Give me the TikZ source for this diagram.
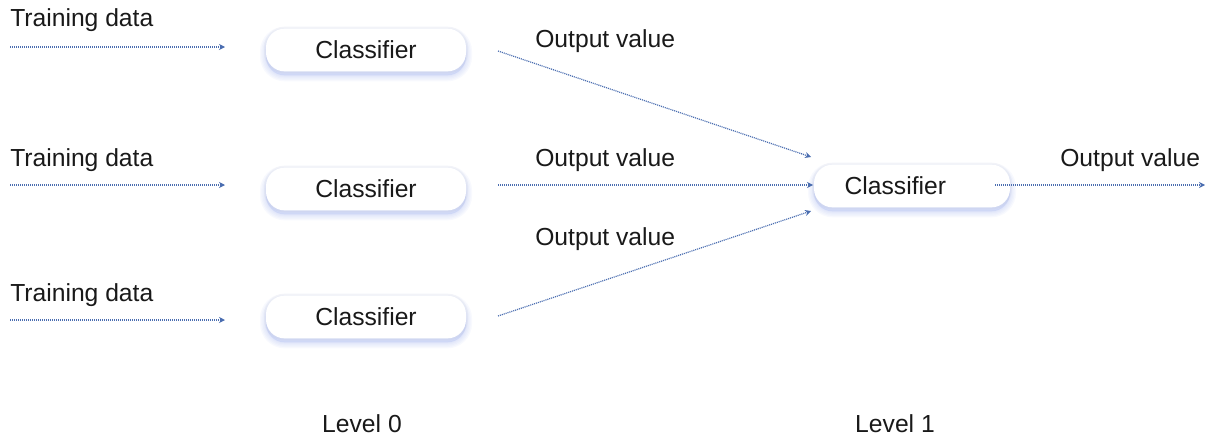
\documentclass[tikz,border=0pt]{standalone}
\usepackage{fontspec}
\setmainfont{Liberation Sans}
\usetikzlibrary{arrows.meta}
\definecolor{flow}{HTML}{4A6DB0}
\definecolor{shade}{HTML}{AFBDF0}
\begin{document}
\begin{tikzpicture}[x=0.75pt,y=-0.75pt,
  every node/.style={font=\fontsize{18.5}{22}\selectfont, text=black!90},
  glow/.style={draw=shade, fill=shade, line width=#1, opacity=0.09,
    transform canvas={yshift=-3pt}},
  clf/.style={rounded corners=14pt, fill=white, minimum width=150pt, minimum height=32pt,
    preaction={glow=9pt}, preaction={glow=7pt}, preaction={glow=5pt},
    preaction={glow=3pt}, preaction={glow=1.5pt},
    preaction={draw=black, opacity=0.025, line width=3pt}},
  lbl/.style={inner sep=0pt, anchor=west},
  flowline/.style={draw=flow, line width=0.9pt, dash pattern=on 0.8pt off 0.7pt,
    -{Stealth[length=4.5pt,width=4.5pt]}}]
  \useasboundingbox (0,0) rectangle (1205,443);

  % level 0 classifiers
  \node[clf] (c1) at (366,50) {Classifier};
  \node[clf] (c2) at (366,189) {Classifier};
  \node[clf] (c3) at (366,317) {Classifier};
  % level 1 classifier (label sits left of centre)
  \node[clf, minimum width=147pt] (c4) at (912,186) {Classifier\kern25pt};

  % inputs
  \coordinate (i1s) at (10,47);  \coordinate (i1e) at (225,47);
  \coordinate (i2s) at (10,185); \coordinate (i2e) at (225,185);
  \coordinate (i3s) at (10,320); \coordinate (i3e) at (225,320);
  \draw[flowline] (i1s) -- (i1e);
  \draw[flowline] (i2s) -- (i2e);
  \draw[flowline] (i3s) -- (i3e);
  \node[lbl] (t1) at (10,20) {Training data};
  \node[lbl] (t2) at (10,160) {Training data};
  \node[lbl] (t3) at (10,295) {Training data};

  % level 0 outputs into level 1
  \coordinate (o1s) at (498,51);  \coordinate (o1e) at (811,157);
  \coordinate (o2s) at (498,185); \coordinate (o2e) at (813,185);
  \coordinate (o3s) at (498,316); \coordinate (o3e) at (811,211);
  \draw[flowline] (o1s) -- (o1e);
  \draw[flowline] (o2s) -- (o2e);
  \draw[flowline] (o3s) -- (o3e);
  \node[lbl] (v1) at (535,41) {Output value};
  \node[lbl] (v2) at (535,160) {Output value};
  \node[lbl] (v3) at (535,239) {Output value};

  % final output
  \coordinate (fs) at (995,185); \coordinate (fe) at (1205,185);
  \draw[flowline] (fs) -- (fe);
  \node[lbl] (v4) at (1060,160) {Output value};

  % level captions
  \node (l0) at (362,424) {Level 0};
  \node (l1) at (895,424) {Level 1};
\end{tikzpicture}
\end{document}
